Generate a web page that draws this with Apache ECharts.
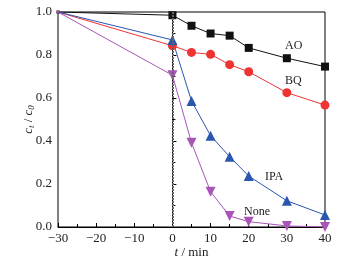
<!DOCTYPE html>
<html><head><meta charset="utf-8">
<script src="https://cdn.jsdelivr.net/npm/echarts@6/dist/echarts.min.js"></script>
<style>html,body{margin:0;padding:0;background:#fff}#c{width:349px;height:270px}</style>
</head><body><div id="c"></div>
<script>
const times = [-30, 0, 5, 10, 15, 20, 30, 40];
const aoValues = [1.0, 0.985, 0.936, 0.90, 0.89, 0.833, 0.785, 0.746];
const bqValues = [1.0, 0.843, 0.812, 0.803, 0.755, 0.722, 0.625, 0.567];
const ipaValues = [1.0, 0.87, 0.586, 0.425, 0.327, 0.237, 0.122, 0.056];
const noneValues = [1.0, 0.706, 0.392, 0.164, 0.051, 0.025, 0.005, 0.0];
const xTicks = [-30, -20, -10, 0, 10, 20, 30, 40];
const yTicks = [0.0, 0.2, 0.4, 0.6, 0.8, 1.0];

const FONT = 'Liberation Serif';
function pts(vals, size) {
  return times.map((t, i) => i === 0 ? {value: [t, vals[i]], symbolSize: 3} : {value: [t, vals[i]], symbolSize: size});
}
function ser(name, vals, color, symbol, size, rot) {
  return {
    name, type: 'line', data: pts(vals, size), symbol, symbolRotate: rot || 0,
    lineStyle: {color, width: 1}, itemStyle: {color}, z: 3, animation: false
  };
}
const chart = echarts.init(document.getElementById('c'));
const series = [
  ser('AO', aoValues, '#111111', 'rect', 8),
  ser('BQ', bqValues, '#ee3333', 'circle', 9),
  ser('IPA', ipaValues, '#2a56b0', 'triangle', 10),
  ser('None', noneValues, '#a955b8', 'triangle', 10, 180)
];
series[0].markLine = {
  silent: true, symbol: 'none', label: {show: false},
  lineStyle: {color: '#666', type: [2, 1], width: 2},
  data: [{xAxis: 0}]
};
const rich = {
  i: {fontFamily: FONT, fontStyle: 'italic', fontSize: 13, color: '#222'},
  s: {fontFamily: FONT, fontStyle: 'italic', fontSize: 9, color: '#222', verticalAlign: 'bottom', padding: [6, 0, 0, 0]},
  n: {fontFamily: FONT, fontSize: 13, color: '#222'}
};
chart.setOption({
  animation: false,
  grid: {left: 58, right: 24, top: 12, bottom: 43, show: true, borderColor: '#000', borderWidth: 1},
  xAxis: {
    type: 'value', min: -30, max: 40, interval: 10,
    name: '{i|t}{n| / min}', nameLocation: 'middle', nameGap: 19, nameMoveOverlap: false,
    nameTextStyle: {fontFamily: FONT, fontSize: 13, color: '#222', rich},
    axisLine: {lineStyle: {color: '#000', width: 1}},
    axisTick: {inside: true, length: 4, lineStyle: {color: '#000'}},
    minorTick: {show: true, splitNumber: 2, length: 3, lineStyle: {color: '#000'}},
    splitLine: {show: false},
    axisLabel: {fontFamily: FONT, fontSize: 13, color: '#222', margin: 5,
      formatter: v => xTicks.includes(v) ? (v < 0 ? '\u2212' + Math.abs(v) : String(v)) : ''}
  },
  yAxis: {
    type: 'value', min: 0, max: 1, interval: 0.2,
    name: '{i|c}{s|t}{n| / }{i|c}{s|0}', nameLocation: 'middle', nameGap: 22, nameMoveOverlap: false,
    nameTextStyle: {fontFamily: FONT, fontSize: 13, color: '#222', rich},
    axisLine: {lineStyle: {color: '#000', width: 1}},
    axisTick: {inside: true, length: 4, lineStyle: {color: '#000'}},
    minorTick: {show: true, splitNumber: 2, length: 3, lineStyle: {color: '#000'}},
    splitLine: {show: false},
    axisLabel: {fontFamily: FONT, fontSize: 13, color: '#222', margin: 6,
      formatter: v => yTicks.some(t => Math.abs(t - v) < 1e-9) ? v.toFixed(1) : ''}
  },
  graphic: [
    {type: 'text', left: 285, top: 40, style: {text: 'AO', font: '12px "Liberation Serif"', fill: '#222'}},
    {type: 'text', left: 285, top: 75, style: {text: 'BQ', font: '12px "Liberation Serif"', fill: '#222'}},
    {type: 'text', left: 265, top: 171, style: {text: 'IPA', font: '12px "Liberation Serif"', fill: '#222'}},
    {type: 'text', left: 244, top: 206, style: {text: 'None', font: '12px "Liberation Serif"', fill: '#222'}}
  ],
  series
});
</script></body></html>
